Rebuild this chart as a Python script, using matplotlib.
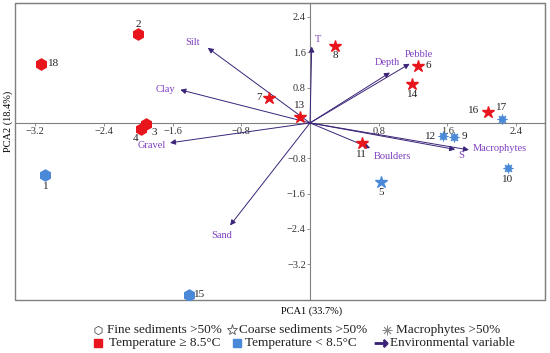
import numpy as np
import matplotlib
matplotlib.use("Agg")
import matplotlib.pyplot as plt
from matplotlib.lines import Line2D
from matplotlib.patches import Rectangle

plt.rcParams['font.family'] = ['Liberation Serif', 'DejaVu Sans']

# sites: PCA scores
site_ids = ['1', '2', '3', '4', '5', '6', '7', '8', '9', '10',
            '11', '12', '13', '14', '15', '16', '17', '18']
site_x = [-3.08, -2.00, -1.91, -1.97, 0.83, 1.26, -0.48, 0.29, 1.68, 2.30,
          0.60, 1.55, -0.12, 1.19, -1.41, 2.07, 2.23, -3.13]
site_y = [-1.18, 2.02, -0.02, -0.14, -1.33, 1.30, 0.57, 1.75, -0.31, -1.03,
          -0.46, -0.30, 0.14, 0.89, -3.89, 0.25, 0.09, 1.34]
# F = fine sediments, C = coarse sediments, M = macrophytes
site_type = ['F', 'F', 'F', 'F', 'C', 'C', 'C', 'C', 'M', 'M',
             'C', 'M', 'C', 'C', 'F', 'C', 'M', 'F']
warm = [False, True, True, True, False, True, True, True, False, False,
        True, False, True, True, False, True, False, True]

# environmental vectors
env_names = ['T', 'Silt', 'Clay', 'Gravel', 'Sand', 'Depth', 'Pebble',
             'Boulders', 'S', 'Macrophytes']
env_x = [0.02, -1.19, -1.51, -1.63, -0.93, 0.93, 1.16, 0.70, 1.69, 1.85]
env_y = [1.73, 1.70, 0.75, -0.45, -2.32, 1.14, 1.34, -0.57, -0.60, -0.61]

xticks = [-3.2, -2.4, -1.6, -0.8, 0.8, 1.6, 2.4]
yticks = [2.4, 1.6, 0.8, -0.8, -1.6, -2.4, -3.2]

legend_labels = ['Fine sediments >50%', 'Coarse sediments >50%', 'Macrophytes >50%',
                 'Temperature \u2265 8.5\u00b0C', 'Temperature < 8.5\u00b0C',
                 'Environmental variable']

# layout of the labels (offsets in points)
site_lab = {'1': (0, -8, 'center'), '2': (0, 7, 'center'), '3': (6, -6, 'center'),
            '4': (-4, -7, 'center'), '5': (0, -8, 'center'), '6': (5, 0, 'left'),
            '7': (-5, 0, 'right'), '8': (0, -7, 'center'), '9': (5, 0, 'left'),
            '10': (0, -8, 'center'), '11': (0, -8, 'center'), '12': (-5, 0, 'right'),
            '13': (0, 8, 'center'), '14': (0, -8, 'center'), '15': (4, 0, 'left'),
            '16': (-6, 1, 'right'), '17': (0, 8, 'center'), '18': (5, 0, 'left')}
env_lab = {'T': (2, 5, 'left'), 'Silt': (-11, 4, 'center'), 'Clay': (-11, 0, 'center'),
           'Gravel': (-13, -2, 'center'), 'Sand': (-6, -7, 'center'),
           'Depth': (-2, 7, 'center'), 'Pebble': (7, 7, 'center'),
           'Boulders': (16, -6, 'center'), 'S': (4, -4, 'center'),
           'Macrophytes': (3, 1, 'left')}

RED = '#e8161c'
BLUE = '#4a88d8'
ARROW = '#3a2478'
PURPLE = '#7d3fc0'

fig = plt.figure(figsize=(5.5, 3.53), dpi=100)
ax = fig.add_axes([0.028, 0.150, 0.962, 0.842])
ax.set_xlim(-3.43, 2.73)
ax.set_ylim(-4.01, 2.72)

for s in ['left', 'bottom']:
    ax.spines[s].set_position(('data', 0))
for s in ax.spines.values():
    s.set_color('#808080')
    s.set_linewidth(0.8)
ax.add_patch(Rectangle((0, 0), 1, 1, transform=ax.transAxes, fill=False,
                       ec='#808080', lw=1.0, clip_on=False))
ax.set_xticks(xticks)
ax.set_yticks(yticks)
ax.set_xticklabels([f'{v:.1f}'.replace('-', '\u2212') for v in xticks])
ax.set_yticklabels([f'{v:.1f}'.replace('-', '\u2212') for v in yticks])
ax.tick_params(length=2, width=0.6, color='#808080', labelsize=7.5,
               labelcolor='#333333', pad=1)

for name, x, y in zip(env_names, env_x, env_y):
    ax.annotate('', xy=(x, y), xytext=(0, 0),
                arrowprops=dict(arrowstyle='-|>', color=ARROW, lw=0.7,
                                mutation_scale=8, shrinkA=0, shrinkB=0))
    dx, dy, ha = env_lab[name]
    ax.annotate(name, (x, y), xytext=(dx, dy), textcoords='offset points',
                ha=ha, va='center', color=PURPLE, fontsize=7.5)

for sid, x, y, t, w in zip(site_ids, site_x, site_y, site_type, warm):
    c = RED if w else BLUE
    if t == 'F':
        ax.plot(x, y, marker='h', ms=8, color=c, mec=c, zorder=5)
    elif t == 'C':
        ax.plot(x, y, marker='*', ms=9, color=c, mec=c, zorder=5)
    else:
        ax.plot(x, y, marker='o', ms=4, color=c, mec=c, zorder=5)
        ax.plot(x, y, marker=(8, 2, 0), ms=7, color=c, mew=0.8, zorder=5)
    dx, dy, ha = site_lab[sid]
    ax.annotate(sid, (x, y), xytext=(dx, dy), textcoords='offset points',
                ha=ha, va='center', fontsize=8, color='#222222', zorder=6)

fig.text(0.567, 0.119, 'PCA1 (33.7%)', ha='center', va='center', fontsize=7.5)
fig.text(0.014, 0.655, 'PCA2 (18.4%)', ha='center', va='center', fontsize=7.5,
         rotation=90)

# hand-placed legend, two rows
W, H = 550.0, 353.0
leg_marks = [
    dict(marker='h', ms=6, mfc='none', mec='#555555', mew=0.6),
    dict(marker='*', ms=8, mfc='none', mec='#555555', mew=0.6),
    dict(marker=(8, 2, 0), ms=7, color='#888888', mew=0.6),
    dict(marker='s', ms=5.5, color=RED, mec=RED),
    dict(marker='s', ms=5.5, color=BLUE, mec=BLUE),
    dict(marker=r'$\rightarrow$', ms=9, color=ARROW),
]
mark_px = [98, 232, 387, 98, 237, 381]
text_px = [107, 239, 396, 109, 245, 390]
row_px = [330, 330, 330, 343, 343, 343]
for m, mx, tx, ry, lab in zip(leg_marks, mark_px, text_px, row_px, legend_labels):
    fig.add_artist(Line2D([mx / W], [1 - ry / H], transform=fig.transFigure,
                          ls='', **m))
    fig.text(tx / W, 1 - ry / H, lab, ha='left', va='center', fontsize=9.5,
             color='#222222')

fig.savefig('out.png', dpi=100)
